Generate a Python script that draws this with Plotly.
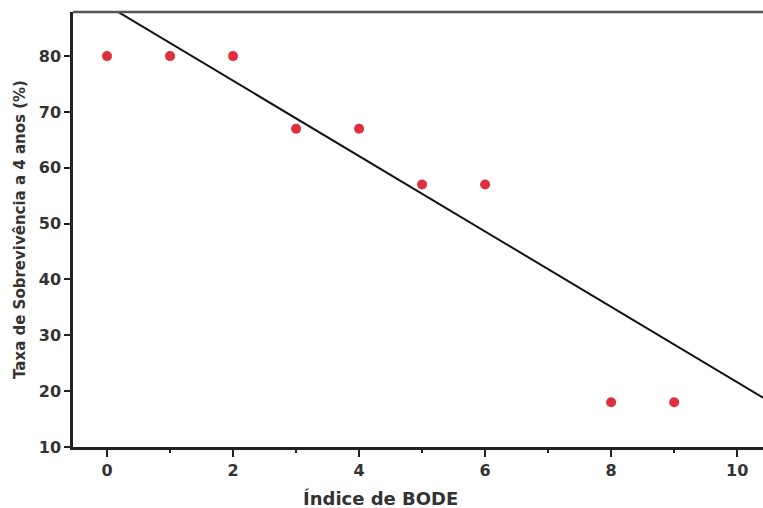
import plotly.graph_objects as go

bode_index = [0, 1, 2, 3, 4, 5, 6, 8, 9]
survival_pct = [80, 80, 80, 67, 67, 57, 57, 18, 18]

fit_intercept = 89.1
fit_slope = -6.75

x_range = [-0.54, 10.41]
y_range = [10, 87.9]

fit_x = [x_range[0], x_range[1]]
fit_y = [fit_intercept + fit_slope * v for v in fit_x]

x_ticks = [0, 2, 4, 6, 8, 10]
y_ticks = [10, 20, 30, 40, 50, 60, 70, 80]

font_family = "DejaVu Sans, Arial, sans-serif"
text_color = "#333333"

fig = go.Figure()
fig.add_trace(go.Scatter(x=fit_x, y=fit_y, mode="lines",
                         line=dict(color="#111111", width=2), hoverinfo="skip"))
fig.add_trace(go.Scatter(x=bode_index, y=survival_pct, mode="markers",
                         marker=dict(color="#e0303f", size=10, line=dict(width=0))))

fig.update_layout(
    width=763, height=508,
    margin=dict(l=73, r=0, t=12, b=61),
    plot_bgcolor="white", paper_bgcolor="white",
    showlegend=False,
    font=dict(family=font_family, color=text_color),
    shapes=[dict(type="line", xref="paper", yref="paper", x0=0, x1=1, y0=1, y1=1,
                 line=dict(color="#555555", width=2.5))],
    annotations=[dict(text="<b>Índice de BODE</b>", xref="paper", yref="paper",
                      x=0.446, y=0, yshift=-51, xanchor="center", yanchor="middle",
                      showarrow=False, font=dict(size=18, color=text_color))],
)
fig.update_xaxes(
    range=x_range, tickvals=x_ticks, ticktext=[f"<b>{v}</b>" for v in x_ticks],
    showgrid=False, zeroline=False, showline=True, linecolor="#222222", linewidth=2.5,
    ticks="outside", ticklen=7, tickwidth=2, tickcolor="#222222",
    tickfont=dict(size=16, color=text_color),
    minor=dict(tickvals=[1, 3, 5, 7, 9], ticks="outside", ticklen=3, tickwidth=2, tickcolor="#222222"),
)
fig.update_yaxes(
    range=y_range, tickvals=y_ticks, ticktext=[f"<b>{v}</b>" for v in y_ticks],
    showgrid=False, zeroline=False, showline=True, linecolor="#222222", linewidth=2.5,
    ticks="outside", ticklen=6, tickwidth=2, tickcolor="#222222",
    tickfont=dict(size=16, color=text_color),
    title=dict(text="<b>Taxa de Sobrevivência a 4 anos (%)</b>", font=dict(size=15, color=text_color), standoff=10),
)

fig.write_html("out.html", config={"displayModeBar": False},
               post_script="document.body.style.margin='0';document.body.style.overflow='hidden';")
